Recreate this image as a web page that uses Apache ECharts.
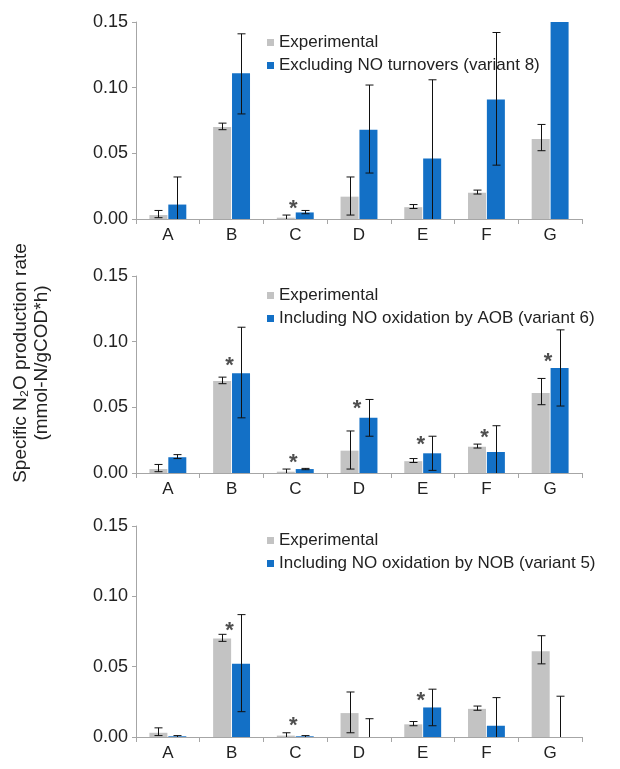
<!DOCTYPE html>
<html>
<head>
<meta charset="utf-8">
<script src="https://cdn.jsdelivr.net/npm/echarts@6/dist/echarts.min.js"></script>
<style>html,body{margin:0;padding:0;background:#fff;}#c{width:620px;height:769px;}</style>
</head>
<body>
<div id="c"></div>
<script>
// ---- data ----
const categories = ['A','B','C','D','E','F','G'];
const yTickValues = [0, 0.05, 0.10, 0.15];
const yTitle = 'Specific N\u2082O production rate\n(mmol-N/gCOD*h)';

const expName = 'Experimental';
const expVals = [0.003, 0.070, 0.001, 0.017, 0.009, 0.020, 0.061];
const expLow  = [0.001, 0.068, 0.000, 0.003, 0.008, 0.019, 0.052];
const expHigh = [0.0065, 0.073, 0.003, 0.032, 0.011, 0.022, 0.072];

const v8Name  = 'Excluding NO turnovers (variant 8)';
const v8Vals  = [0.011, 0.111, 0.005, 0.068, 0.046, 0.091, 0.150];
const v8Low   = [0, 0.080, 0.004, 0.035, 0, 0.041, null];
const v8High  = [0.032, 0.141, 0.0065, 0.102, 0.106, 0.142, null];
const v8Stars = [null, null, 0.012, null, null, null, null];

const v6Name  = 'Including NO oxidation by AOB (variant 6)';
const v6Vals  = [0.012, 0.076, 0.003, 0.042, 0.015, 0.016, 0.080];
const v6Low   = [0.011, 0.042, 0.0025, 0.028, 0.002, 0, 0.051];
const v6High  = [0.014, 0.111, 0.0035, 0.056, 0.028, 0.036, 0.109];
const v6Stars = [null, 0.086, 0.012, 0.053, 0.026, 0.031, 0.089];

const v5Name  = 'Including NO oxidation by NOB (variant 5)';
const v5Vals  = [0.0005, 0.052, 0.0005, 0, 0.021, 0.008, 0];
const v5Low   = [0, 0.018, 0, 0, 0.008, 0, 0];
const v5High  = [0.001, 0.087, 0.001, 0.013, 0.034, 0.028, 0.029];
const v5Stars = [null, 0.080, 0.012, null, 0.030, null, null];

// ---- styling ----
const FONT = 'Liberation Sans, Arial, sans-serif';
const GRAY = '#c3c3c3';
const BLUE = '#1370c6';
const AXIS = '#a6a6a6';
const BAR_W = 18;
const HALF = 9.5; // bar centre offset from category centre

const panels = [
  {name: v8Name, vals: v8Vals, low: v8Low, high: v8High, stars: v8Stars, top: 22, height: 197, legendTop: 29},
  {name: v6Name, vals: v6Vals, low: v6Low, high: v6High, stars: v6Stars, top: 276, height: 197, legendTop: 282},
  {name: v5Name, vals: v5Vals, low: v5Low, high: v5High, stars: v5Stars, top: 526, height: 211, legendTop: 527}
];

function errSeries(gi, lows, highs, side) {
  const data = categories.map((c, i) => [i, lows[i], highs[i]]).filter(d => d[2] != null);
  return {
    type: 'custom', xAxisIndex: gi, yAxisIndex: gi, z: 10, silent: true,
    data: data,
    encode: {x: 0, y: [1, 2]},
    renderItem: function (params, api) {
      const i = api.value(0), lo = Math.max(0, api.value(1)), hi = api.value(2);
      const pHi = api.coord([i, hi]);
      const pLo = api.coord([i, lo]);
      const x = Math.round(pHi[0] + side * HALF) + 0.5;
      const cap = 4;
      const st = {stroke: '#111', lineWidth: 1};
      const children = [
        {type: 'line', shape: {x1: x, y1: pHi[1], x2: x, y2: pLo[1]}, style: st},
        {type: 'line', shape: {x1: x - cap, y1: pHi[1], x2: x + cap, y2: pHi[1]}, style: st}
      ];
      if (api.value(1) > 0) {
        children.push({type: 'line', shape: {x1: x - cap, y1: pLo[1], x2: x + cap, y2: pLo[1]}, style: st});
      }
      return {type: 'group', children: children};
    }
  };
}

const grids = [], xAxes = [], yAxes = [], series = [], legends = [];
panels.forEach((p, gi) => {
  grids.push({left: 136, width: 446, top: p.top, height: p.height});
  xAxes.push({
    type: 'category', gridIndex: gi, data: categories,
    axisLine: {lineStyle: {color: AXIS}},
    axisTick: {show: true, length: 5, lineStyle: {color: AXIS}},
    axisLabel: {fontFamily: FONT, fontSize: 17, color: '#222', margin: 8}
  });
  yAxes.push({
    type: 'value', gridIndex: gi, min: 0, max: 0.15, interval: 0.05,
    axisLine: {show: true, lineStyle: {color: AXIS}},
    axisTick: {show: true, length: 4, lineStyle: {color: AXIS}},
    splitLine: {show: false},
    axisLabel: {fontFamily: FONT, fontSize: 18, color: '#222', margin: 8,
      formatter: v => yTickValues.find(t => Math.abs(t - v) < 1e-9) != null ? v.toFixed(2) : ''}
  });
  series.push({
    type: 'bar', name: expName, xAxisIndex: gi, yAxisIndex: gi, data: expVals,
    barWidth: BAR_W, barGap: '5%', itemStyle: {color: GRAY}
  });
  series.push({
    type: 'bar', name: p.name, xAxisIndex: gi, yAxisIndex: gi, data: p.vals,
    barWidth: BAR_W, barGap: '5%', itemStyle: {color: BLUE}
  });
  series.push(errSeries(gi, expLow, expHigh, -1));
  series.push(errSeries(gi, p.low, p.high, 1));
  series.push({
    type: 'scatter', xAxisIndex: gi, yAxisIndex: gi, z: 12, silent: true,
    data: categories.map((c, i) => [i, p.stars[i]]).filter(d => d[1] != null),
    symbolSize: 2, itemStyle: {color: 'rgba(0,0,0,0)'},
    label: {show: true, formatter: '*', position: 'inside', fontFamily: FONT,
      fontSize: 22, fontWeight: 'bold', color: '#222', offset: [-2, 6]}
  });
  legends.push({
    orient: 'vertical', left: 262, top: p.legendTop, itemGap: 6,
    itemWidth: 7, itemHeight: 7, icon: 'rect', selectedMode: false,
    data: [expName, p.name],
    textStyle: {fontFamily: FONT, fontSize: 17, color: '#222'}
  });
});

const chart = echarts.init(document.getElementById('c'), null, {renderer: 'canvas'});
chart.setOption({
  animation: false,
  backgroundColor: '#fff',
  grid: grids, xAxis: xAxes, yAxis: yAxes, legend: legends, series: series,
  graphic: [{
    type: 'text', x: 31, y: 363, rotation: Math.PI / 2,
    style: {text: yTitle, font: '19px ' + FONT, fill: '#222', align: 'center',
      verticalAlign: 'middle', lineHeight: 21}
  }]
});
</script>
</body>
</html>
